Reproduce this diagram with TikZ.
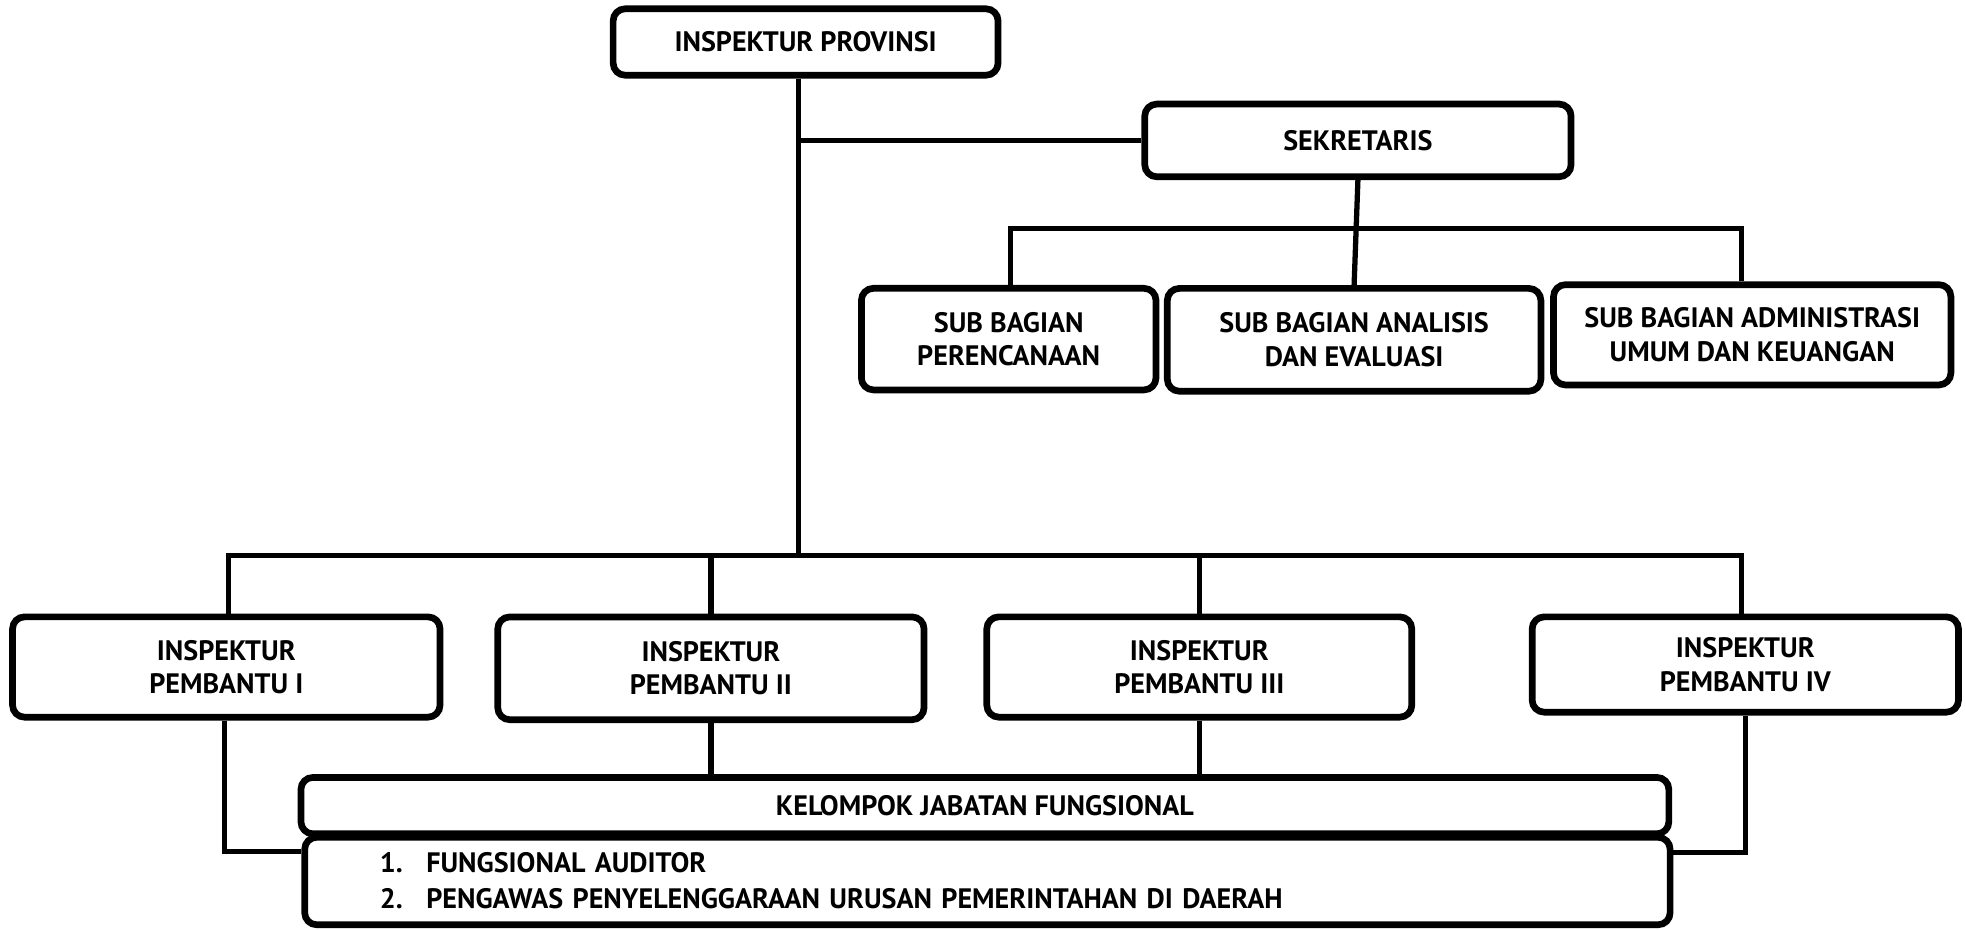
\documentclass[tikz,border=0pt]{standalone}
\usepackage{fontspec}
\setmainfont{PT Sans}

\begin{document}
\begin{tikzpicture}[
    box/.style={draw, rounded corners=0.12cm, line width=1.9pt, align=center,
      inner sep=0pt, font=\bfseries\fontsize{8}{9.5}\selectfont},
    link/.style={line width=1.5pt}]
    \useasboundingbox (0,0) rectangle (19.66,-9.29);

    % Top of the chart
    \node[box, minimum width=3.849cm, minimum height=0.664cm] (inspektur) at (8.056,-0.420) {INSPEKTUR PROVINSI};
    \node[box, minimum width=4.263cm, minimum height=0.727cm] (sekretaris) at (13.579,-1.404) {SEKRETARIS};

    % Sub bagian
    \node[box, minimum width=2.946cm, minimum height=1.016cm] (perencanaan) at (10.087,-3.391) {SUB BAGIAN\\PERENCANAAN};
    \node[box, minimum width=3.736cm, minimum height=1.028cm] (analisis) at (13.541,-3.398) {SUB BAGIAN ANALISIS\\DAN EVALUASI};
    \node[box, minimum width=3.974cm, minimum height=1.003cm] (administrasi) at (17.522,-3.348) {SUB BAGIAN ADMINISTRASI\\UMUM DAN KEUANGAN};

    % Inspektur pembantu
    \node[box, minimum width=4.275cm, minimum height=1.003cm] (pembantu1) at (2.263,-6.670) {INSPEKTUR\\PEMBANTU I};
    \node[box, minimum width=4.263cm, minimum height=1.028cm] (pembantu2) at (7.109,-6.683) {INSPEKTUR\\PEMBANTU II};
    \node[box, minimum width=4.250cm, minimum height=1.003cm] (pembantu3) at (11.993,-6.670) {INSPEKTUR\\PEMBANTU III};
    \node[box, minimum width=4.263cm, minimum height=0.953cm] (pembantu4) at (17.453,-6.645) {INSPEKTUR\\PEMBANTU IV};

    % Kelompok jabatan fungsional
    \node[box, minimum width=13.679cm, minimum height=0.564cm] (fungsional) at (9.849,-8.056) {KELOMPOK JABATAN FUNGSIONAL};
    \node[box, align=left, inner xsep=0.752cm, text width=12.15cm, minimum height=0.875cm,
      font=\bfseries\fontsize{8}{10.3}\selectfont] (daftar) at (9.874,-8.81)
      {\makebox[0.464cm][l]{1.}FUNGSIONAL AUDITOR\\\makebox[0.464cm][l]{2.}PENGAWAS PENYELENGGARAAN URUSAN PEMERINTAHAN DI DAERAH};

    % Key points for the lines
    \coordinate (trunk bottom) at (7.987,-5.554);
    \coordinate (sub left) at (10.106,-2.282);
    \coordinate (sub right) at (17.415,-2.282);
    \coordinate (bar left) at (2.282,-5.554);
    \coordinate (bar right) at (17.415,-5.554);
    \coordinate (elbow left) at (2.244,-8.513);
    \coordinate (elbow right) at (17.453,-8.526);

    \draw[link] (trunk bottom |- inspektur.south) -- (trunk bottom);
    \draw[link] (sekretaris.west) -- (sekretaris.west -| trunk bottom);
    \draw[link] (sekretaris.south) -- (analisis.north);
    \draw[link] (sub left |- perencanaan.north) -- (sub left) -- (sub right) -- (sub right |- administrasi.north);
    \draw[link] (bar left |- pembantu1.north) -- (bar left) -- (bar right) -- (bar right |- pembantu4.north);
    \draw[link] (pembantu2.north) -- (pembantu2.north |- bar left);
    \draw[link] (pembantu3.north) -- (pembantu3.north |- bar left);
    \draw[link] (elbow left |- pembantu1.south) -- (elbow left) -- (elbow left -| daftar.west);
    \draw[link] (pembantu2.south) -- (pembantu2.south |- fungsional.north);
    \draw[link] (pembantu3.south) -- (pembantu3.south |- fungsional.north);
    \draw[link] (elbow right |- pembantu4.south) -- (elbow right) -- (elbow right -| daftar.east);
\end{tikzpicture}
\end{document}
